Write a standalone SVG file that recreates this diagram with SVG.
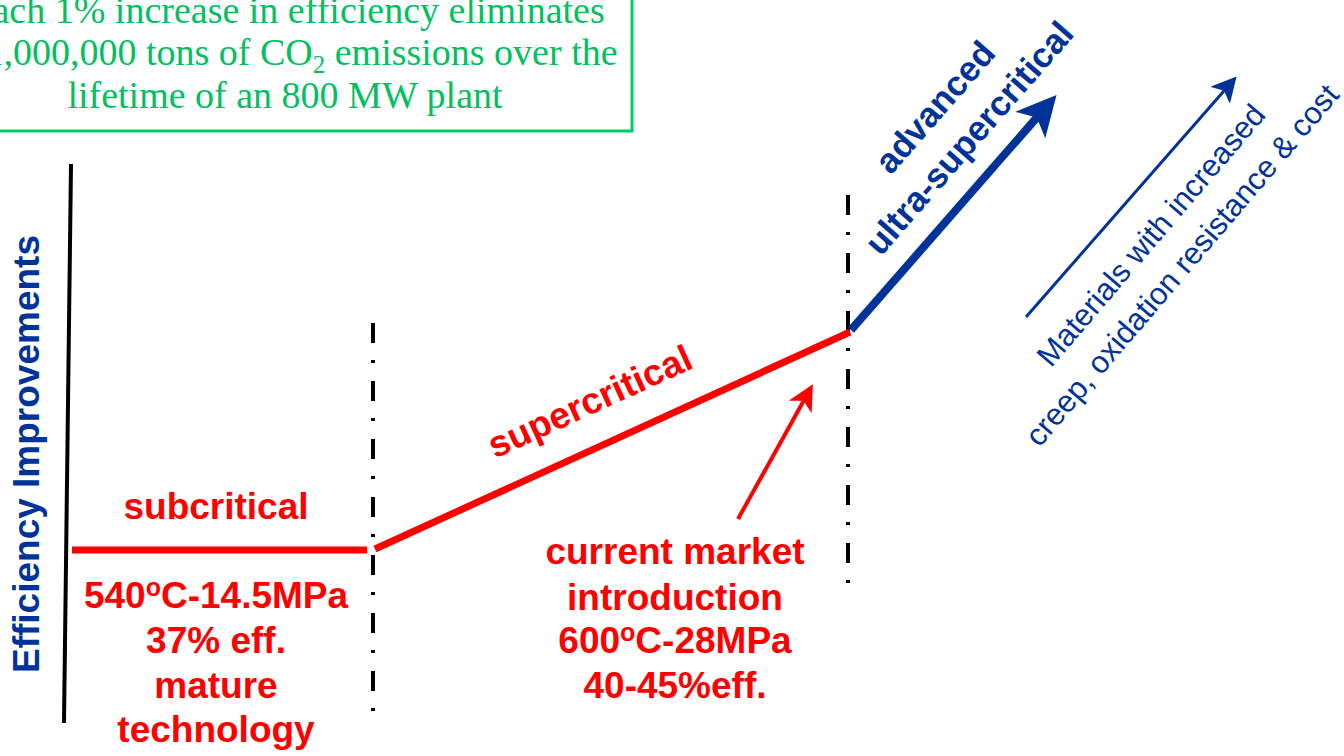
<svg xmlns="http://www.w3.org/2000/svg" width="1344" height="756" viewBox="0 0 1344 756">
<style>
.red{font-family:"Liberation Sans",Arial,sans-serif;font-weight:bold;font-size:37px;fill:#FF0000;text-anchor:middle}
.blueb{font-family:"Liberation Sans",Arial,sans-serif;font-weight:bold;font-size:35px;fill:#003399;text-anchor:middle}
.bluen{font-family:"Liberation Sans",Arial,sans-serif;font-size:31px;fill:#003399;text-anchor:middle}
.green{font-family:"Liberation Serif","Times New Roman",serif;font-size:38px;fill:#00C060;text-anchor:middle}
.dash{stroke:#000;stroke-width:4;stroke-dasharray:20 17 3 18;fill:none}
</style>
<defs>
<marker id="mRed" markerUnits="userSpaceOnUse" markerWidth="30" markerHeight="30" refX="16" refY="13" orient="auto">
<path d="M0,0 L26,13 L0,26 L7,13 Z" fill="#FF0000"/>
</marker>
<marker id="mBlueBig" markerUnits="userSpaceOnUse" markerWidth="44" markerHeight="44" refX="24" refY="20" orient="auto">
<path d="M0,0 L40,20 L0,40 L10,20 Z" fill="#003399"/>
</marker>
<marker id="mBlueSmall" markerUnits="userSpaceOnUse" markerWidth="30" markerHeight="30" refX="15" refY="13" orient="auto">
<path d="M0,0 L25,13 L0,26 L6,13 Z" fill="#003399"/>
</marker>
</defs>
<rect width="1344" height="756" fill="#FFFFFF"/>

<g id="note-box">
<rect x="-60" y="-10" width="692" height="141" fill="none" stroke="#00CC66" stroke-width="3"/>
<text class="green" x="287" y="23">Each 1% increase in efficiency eliminates</text>
<text class="green" x="301" y="65" font-size="37">1,000,000 tons of CO<tspan font-size="25" dy="8">2</tspan><tspan dy="-8"> emissions over the</tspan></text>
<text class="green" x="285" y="108">lifetime of an 800 MW plant</text>
</g>

<g id="axis">
<line x1="71" y1="164" x2="64" y2="723" stroke="#000" stroke-width="4"/>
<text transform="translate(39,454) rotate(-90)" font-family="Liberation Sans,Arial,sans-serif" font-weight="bold" font-size="37" fill="#003399" text-anchor="middle">Efficiency Improvements</text>
</g>

<g id="connectors">
<line class="dash" x1="373" y1="323" x2="373" y2="716"/>
<line class="dash" x1="848" y1="195" x2="848" y2="588"/>
<line x1="72" y1="550" x2="367" y2="550" stroke="#FF0000" stroke-width="7"/>
<line x1="375" y1="549" x2="850" y2="332" stroke="#FF0000" stroke-width="7"/>
<line x1="851" y1="330" x2="1046" y2="107" stroke="#003399" stroke-width="8" marker-end="url(#mBlueBig)"/>
<line x1="738" y1="519" x2="808" y2="393" stroke="#FF0000" stroke-width="4" marker-end="url(#mRed)"/>
<line x1="1026" y1="317" x2="1230" y2="84" stroke="#003399" stroke-width="3" marker-end="url(#mBlueSmall)"/>
</g>

<g id="subcritical">
<text class="red" x="216" y="519">subcritical</text>
<text class="red" x="216" y="608">540<tspan font-size="25" dy="-12">o</tspan><tspan dy="12">C-14.5MPa</tspan></text>
<text class="red" x="216" y="653">37% eff.</text>
<text class="red" x="216" y="698">mature</text>
<text class="red" x="216" y="742">technology</text>
</g>

<g id="supercritical">
<text class="red" transform="translate(595,413) rotate(-24.6)">supercritical</text>
<text class="red" x="675" y="564">current market</text>
<text class="red" x="675" y="610">introduction</text>
<text class="red" x="675" y="653">600<tspan font-size="25" dy="-12">o</tspan><tspan dy="12">C-28MPa</tspan></text>
<text class="red" x="675" y="698">40-45%eff.</text>
</g>

<g id="ultra-supercritical">
<text class="blueb" transform="translate(944,115) rotate(-48.8)">advanced</text>
<text class="blueb" transform="translate(978,146) rotate(-48.8)">ultra-supercritical</text>
</g>

<g id="materials">
<text class="bluen" transform="translate(1159,242) rotate(-49.5)">Materials with increased</text>
<text class="bluen" transform="translate(1190,272) rotate(-49.5)">creep, oxidation resistance &amp; cost</text>
</g>
</svg>
